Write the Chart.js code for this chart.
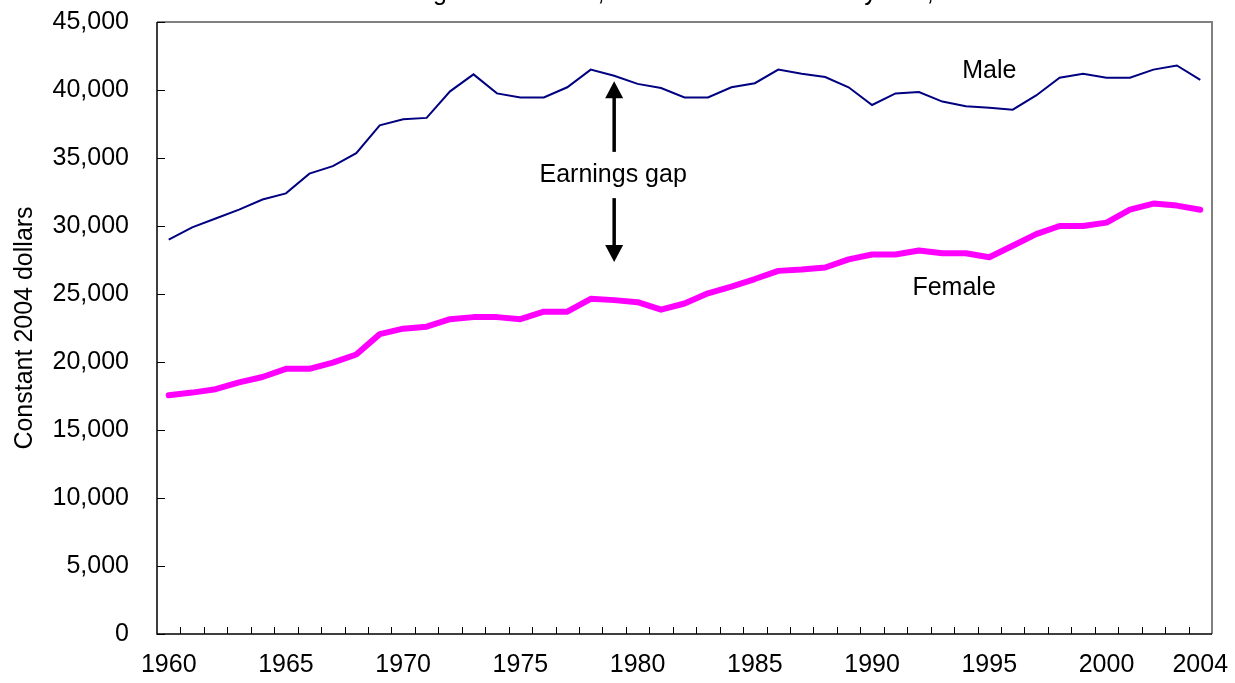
<!DOCTYPE html>
<html>
<head>
<meta charset="utf-8">
<script src="https://cdn.jsdelivr.net/npm/chart.js@4"></script>
<style>
  html, body { margin: 0; padding: 0; background: #fff; }
  #wrap { width: 1235px; height: 683px; position: relative; }
</style>
</head>
<body>
<div id="wrap"><canvas id="myChart"></canvas></div>
<script>
// data
var years = [];
for (var y = 1960; y <= 2004; y++) years.push(String(y));

var maleValues = [29000, 29900, 30550, 31200, 31950, 32400, 33850, 34400, 35350, 37400,
  37850, 37950, 39900, 41150, 39750, 39450, 39450, 40200, 41500, 41050,
  40450, 40150, 39450, 39450, 40200, 40500, 41500, 41200, 40950, 40200,
  38900, 39750, 39850, 39150, 38800, 38700, 38550, 39600, 40900, 41200,
  40900, 40900, 41500, 41800, 40750];

var femaleValues = [17550, 17750, 18000, 18500, 18900, 19500, 19500, 19950, 20550, 22050,
  22450, 22600, 23150, 23300, 23300, 23150, 23700, 23700, 24650, 24550,
  24400, 23850, 24300, 25050, 25550, 26100, 26700, 26800, 26950, 27550,
  27900, 27900, 28200, 28000, 28000, 27700, 28550, 29400, 30000, 30000,
  30250, 31200, 31650, 31500, 31200];

var xTickLabels = ["1960", "1965", "1970", "1975", "1980", "1985", "1990", "1995", "2000", "2004"];
var yMax = 45000;
var yStep = 5000;

var FONT = "'Liberation Sans', Arial, sans-serif";

// title (only its lower edge shows), box, inward ticks, text labels and arrows
var decor = {
  id: "decor",
  afterDraw: function (chart) {
    var ctx = chart.ctx;
    var a = chart.chartArea;
    var xs = chart.scales.x;
    var ys = chart.scales.y;
    ctx.save();

    // cut-off title
    ctx.font = "25px " + FONT;
    ctx.fillStyle = "#000";
    ctx.textBaseline = "alphabetic";
    ctx.textAlign = "left";
    var pre = "Median Earnin";
    var x0 = 440 - ctx.measureText(pre).width - ctx.measureText("g").width / 2;
    ctx.fillText("Median Earnings of Full-Time, Year-Round Workers by Sex, 1960 to 2004", x0, 0);

    // plot box
    ctx.strokeStyle = "#808080";
    ctx.lineWidth = 2;
    ctx.beginPath();
    ctx.moveTo(a.left, a.top);
    ctx.lineTo(a.right, a.top);
    ctx.lineTo(a.right, a.bottom);
    ctx.stroke();

    ctx.strokeStyle = "#000";
    ctx.lineWidth = 1.5;
    ctx.beginPath();
    ctx.moveTo(a.left, a.top);
    ctx.lineTo(a.left, a.bottom);
    ctx.lineTo(a.right, a.bottom);
    ctx.stroke();

    // y ticks, pointing in
    ctx.lineWidth = 1;
    ctx.beginPath();
    for (var v = 0; v <= yMax; v += yStep) {
      var py = Math.round(ys.getPixelForValue(v)) + 0.5;
      ctx.moveTo(a.left, py);
      ctx.lineTo(a.left + 8, py);
    }
    // x ticks between categories, pointing in
    var n = years.length;
    var w = (a.right - a.left) / n;
    for (var i = 1; i < n; i++) {
      var px = Math.round(a.left + i * w) + 0.5;
      ctx.moveTo(px, a.bottom);
      ctx.lineTo(px, a.bottom - 7);
    }
    ctx.stroke();

    // labels
    ctx.font = "25px " + FONT;
    ctx.textAlign = "center";
    ctx.textBaseline = "middle";
    ctx.fillText("Male", xs.getPixelForValue(35), ys.getPixelForValue(41400));
    ctx.fillText("Female", xs.getPixelForValue(33.5), ys.getPixelForValue(25450));
    var gx = xs.getPixelForValue(19);
    ctx.fillText("Earnings gap", gx - 1, ys.getPixelForValue(33750));

    // arrows
    function arrow(x, yFrom, yTo) {
      var p1 = ys.getPixelForValue(yFrom);
      var p2 = ys.getPixelForValue(yTo);
      var dir = p2 < p1 ? -1 : 1;
      ctx.strokeStyle = "#000";
      ctx.lineWidth = 3.5;
      ctx.beginPath();
      ctx.moveTo(x, p1);
      ctx.lineTo(x, p2 - dir * 16);
      ctx.stroke();
      ctx.beginPath();
      ctx.moveTo(x, p2);
      ctx.lineTo(x - 9, p2 - dir * 17);
      ctx.lineTo(x + 9, p2 - dir * 17);
      ctx.closePath();
      ctx.fill();
    }
    arrow(gx, 35450, 40650);
    arrow(gx, 32050, 27350);

    ctx.restore();
  }
};

new Chart("myChart", {
  type: "line",
  data: {
    labels: years,
    datasets: [{
      label: "Male",
      data: maleValues,
      borderColor: "#000080",
      borderWidth: 2,
      pointRadius: 0,
      tension: 0,
      fill: false
    }, {
      label: "Female",
      data: femaleValues,
      borderColor: "#ff00ff",
      borderWidth: 6,
      borderJoinStyle: "round",
      borderCapStyle: "round",
      pointRadius: 0,
      tension: 0,
      fill: false
    }]
  },
  plugins: [decor],
  options: {
    responsive: true,
    maintainAspectRatio: false,
    devicePixelRatio: 1,
    animation: false,
    layout: { padding: { top: 22, right: 23, left: 0, bottom: 0 } },
    plugins: {
      legend: { display: false },
      title: { display: false },
      tooltip: { enabled: false }
    },
    scales: {
      x: {
        type: "category",
        offset: true,
        grid: { display: false, drawTicks: false },
        border: { display: false },
        afterFit: function (s) {
          s.height = 49;
          s.paddingLeft = 0;
          s.paddingRight = 0;
        },
        ticks: {
          autoSkip: false,
          maxRotation: 0,
          padding: 16,
          color: "#000",
          font: { family: FONT, size: 25 },
          callback: function (val, idx) {
            var lab = this.getLabelForValue(val);
            return xTickLabels.indexOf(lab) >= 0 ? lab : "";
          }
        }
      },
      y: {
        min: 0,
        max: yMax,
        grid: { display: false, drawTicks: false },
        border: { display: false },
        afterFit: function (s) {
          s.width = 157;
          s.paddingTop = 0;
          s.paddingBottom = 0;
        },
        title: {
          display: true,
          text: "Constant 2004 dollars",
          color: "#000",
          font: { family: FONT, size: 25 },
          padding: { top: 10, bottom: 0 }
        },
        ticks: {
          stepSize: yStep,
          padding: 28,
          color: "#000",
          font: { family: FONT, size: 25 },
          callback: function (v) { return v.toLocaleString("en-US"); }
        }
      }
    }
  }
});
</script>
</body>
</html>
